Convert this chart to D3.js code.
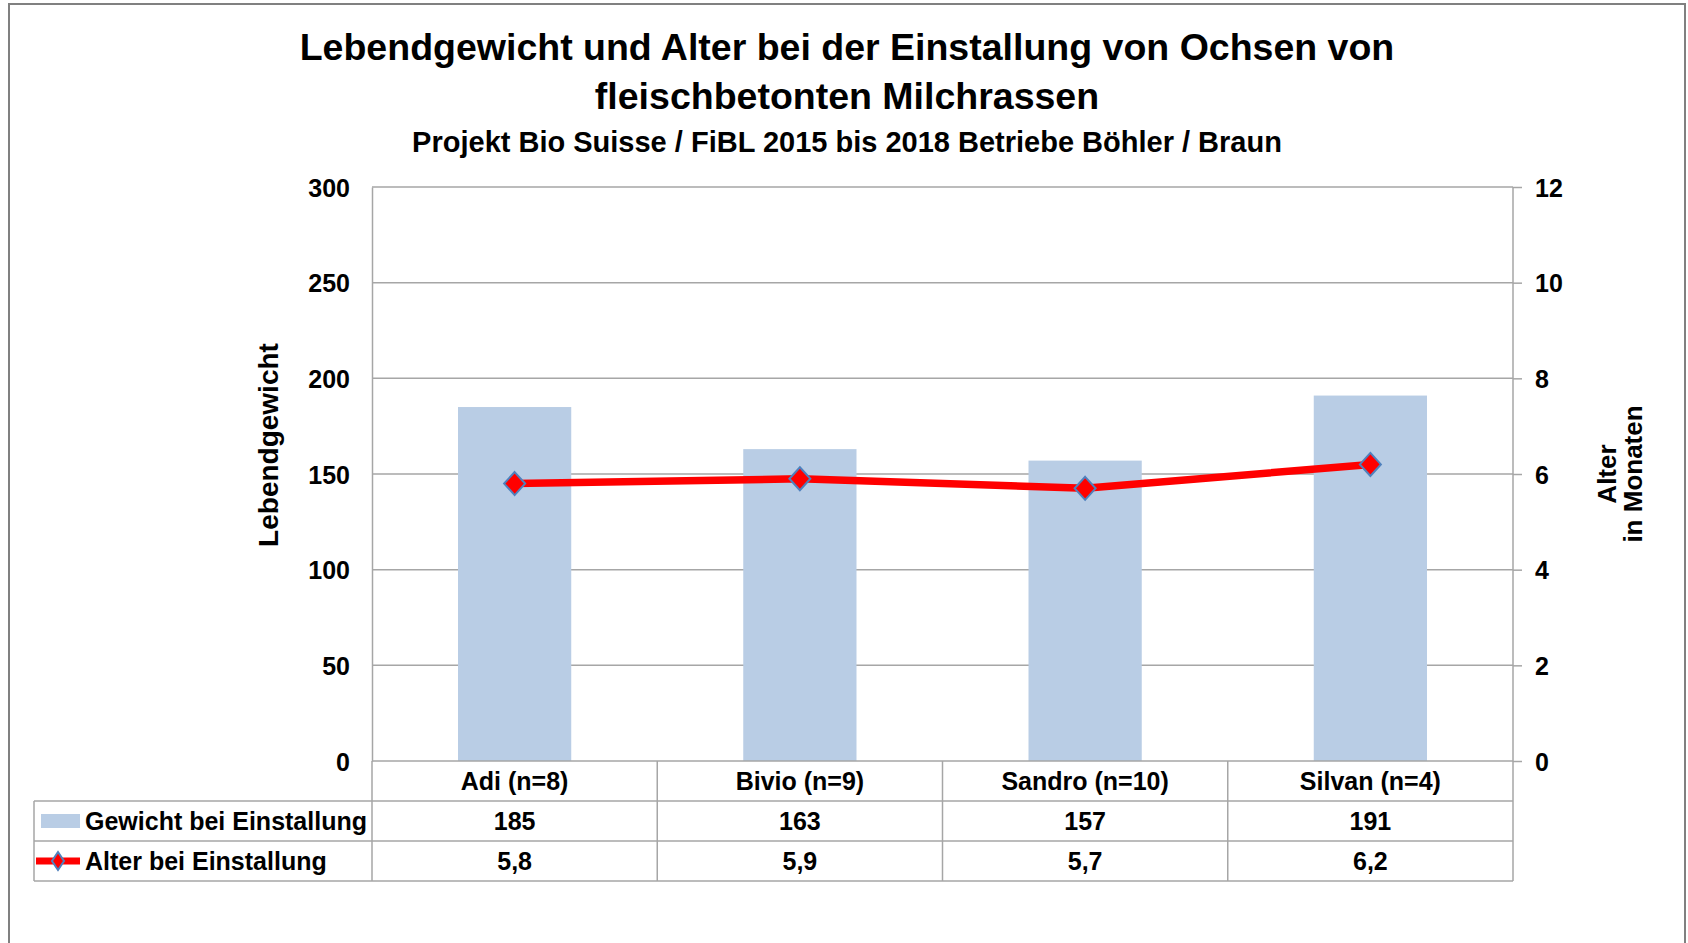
<!DOCTYPE html>
<html>
<head>
<meta charset="utf-8">
<script src="https://cdn.jsdelivr.net/npm/d3@7/dist/d3.min.js"></script>
<style>
  body { margin: 0; background: #fff; }
  text { font-family: "Liberation Sans", Arial, sans-serif; font-weight: bold; fill: #000; }
</style>
</head>
<body>
<svg id="chart" width="1688" height="943"></svg>
<script>
var categories = ["Adi (n=8)", "Bivio (n=9)", "Sandro (n=10)", "Silvan (n=4)"];
var gewicht = [185, 163, 157, 191];
var alter = [5.8, 5.9, 5.7, 6.2];
var leftTicks = [0, 50, 100, 150, 200, 250, 300];
var rightTicks = [0, 2, 4, 6, 8, 10, 12];
var seriesNames = ["Gewicht bei Einstallung", "Alter bei Einstallung"];

var barColor = "#b9cde5";
var lineColor = "#ff0000";
var gridColor = "#a6a6a6";

var svg = d3.select("#chart");
// plot box (note: "top" is reserved on window, so use plot* names)
var plotLeft = 372, plotRight = 1513, plotTop = 187, plotBottom = 761;
var rowH = 40;

var de = d3.formatLocale({decimal: ",", thousands: ".", grouping: [3], currency: ["", " €"]});
var fmt1 = de.format(".1f");

var x = d3.scaleBand()
    .domain(categories)
    .range([plotLeft, plotRight])
    .paddingInner(0);

var yL = d3.scaleLinear()
    .domain([0, 300])
    .range([plotBottom, plotTop]);

var yR = d3.scaleLinear()
    .domain([0, 12])
    .range([plotBottom, plotTop]);

// outer frame
svg.append("rect")
  .attr("x", 9).attr("y", 4)
  .attr("width", 1676).attr("height", 1000)
  .attr("fill", "none")
  .attr("stroke", "#808080")
  .attr("stroke-width", 2);

// titles
svg.append("text")
  .attr("x", 847).attr("y", 60)
  .attr("text-anchor", "middle")
  .style("font-size", "37.5px")
  .text("Lebendgewicht und Alter bei der Einstallung von Ochsen von");
svg.append("text")
  .attr("x", 847).attr("y", 109)
  .attr("text-anchor", "middle")
  .style("font-size", "37.5px")
  .text("fleischbetonten Milchrassen");
svg.append("text")
  .attr("x", 847).attr("y", 152)
  .attr("text-anchor", "middle")
  .style("font-size", "29px")
  .text("Projekt Bio Suisse / FiBL 2015 bis 2018 Betriebe Böhler / Braun");

// gridlines
svg.append("g")
  .selectAll("line")
  .data(leftTicks.filter(function(d){ return d > 0; }))
  .enter().append("line")
  .attr("x1", plotLeft).attr("x2", plotRight)
  .attr("y1", function(d){ return yL(d); })
  .attr("y2", function(d){ return yL(d); })
  .attr("stroke", gridColor)
  .attr("stroke-width", 1.5);

// bars
var bw = x.bandwidth() * 0.397;
svg.append("g")
  .selectAll("rect")
  .data(gewicht)
  .enter().append("rect")
  .attr("x", function(d, i){ return x(categories[i]) + x.bandwidth()/2 - bw/2; })
  .attr("y", function(d){ return yL(d); })
  .attr("width", bw)
  .attr("height", function(d){ return yL(0) - yL(d); })
  .attr("fill", barColor);

// left axis
var gLeft = svg.append("g")
  .attr("transform", "translate(" + plotLeft + ",0)")
  .call(d3.axisLeft(yL).tickValues(leftTicks).tickSize(0).tickPadding(22));
gLeft.select(".domain").attr("stroke", gridColor).attr("stroke-width", 1.5);
gLeft.selectAll("text").style("font-size", "25px").attr("dy", "0.36em");

// right axis
var gRight = svg.append("g")
  .attr("transform", "translate(" + plotRight + ",0)")
  .call(d3.axisRight(yR).tickValues(rightTicks).tickSize(9).tickPadding(13));
gRight.select(".domain").attr("stroke", gridColor).attr("stroke-width", 1.5).attr("d", "M0," + plotTop + "V" + (plotBottom + 3 * rowH));
gRight.selectAll(".tick line").attr("stroke", gridColor).attr("stroke-width", 1.5);
gRight.selectAll("text").style("font-size", "25px").attr("dy", "0.36em");

// axis titles
svg.append("text")
  .attr("transform", "translate(278,445) rotate(-90)")
  .attr("text-anchor", "middle")
  .style("font-size", "28px")
  .text("Lebendgewicht");
var rt = svg.append("text")
  .attr("transform", "translate(1616,474) rotate(-90)")
  .attr("text-anchor", "middle")
  .style("font-size", "26px");
rt.append("tspan").attr("x", 0).attr("dy", 0).text("Alter");
rt.append("tspan").attr("x", 0).attr("dy", 26).text("in Monaten");

// line + markers
var line = d3.line()
  .x(function(d, i){ return x(categories[i]) + x.bandwidth()/2; })
  .y(function(d){ return yR(d); });

svg.append("path")
  .datum(alter)
  .attr("d", line)
  .attr("fill", "none")
  .attr("stroke", lineColor)
  .attr("stroke-width", 7.5)
  .attr("stroke-linejoin", "round");

function diamond(g, cx, cy, w, h){
  g.append("path")
    .attr("d", "M" + cx + "," + (cy - h/2) + "L" + (cx + w/2) + "," + cy + "L" + cx + "," + (cy + h/2) + "L" + (cx - w/2) + "," + cy + "Z")
    .attr("fill", lineColor)
    .attr("stroke", "#4f81bd")
    .attr("stroke-width", 2);
}

var markers = svg.append("g");
alter.forEach(function(d, i){
  diamond(markers, x(categories[i]) + x.bandwidth()/2, yR(d), 21, 23);
});

// data table
var table = svg.append("g");
var tableLeft = 34;

// horizontal lines
[plotBottom, plotBottom + rowH, plotBottom + 2*rowH, plotBottom + 3*rowH].forEach(function(yy, i){
  table.append("line")
    .attr("x1", i == 0 ? plotLeft : tableLeft).attr("x2", plotRight)
    .attr("y1", yy).attr("y2", yy)
    .attr("stroke", gridColor).attr("stroke-width", 1.5);
});
// vertical lines
categories.forEach(function(c){
  table.append("line")
    .attr("x1", x(c)).attr("x2", x(c))
    .attr("y1", plotBottom).attr("y2", plotBottom + 3*rowH)
    .attr("stroke", gridColor).attr("stroke-width", 1.5);
});
table.append("line")
  .attr("x1", tableLeft).attr("x2", tableLeft)
  .attr("y1", plotBottom + rowH).attr("y2", plotBottom + 3*rowH)
  .attr("stroke", gridColor).attr("stroke-width", 1.5);

// category labels
table.selectAll(".cat")
  .data(categories)
  .enter().append("text")
  .attr("class", "cat")
  .attr("x", function(d){ return x(d) + x.bandwidth()/2; })
  .attr("y", plotBottom + rowH/2)
  .attr("dy", "0.36em")
  .attr("text-anchor", "middle")
  .style("font-size", "25px")
  .text(function(d){ return d; });

// values
table.selectAll(".gw")
  .data(gewicht)
  .enter().append("text")
  .attr("class", "gw")
  .attr("x", function(d, i){ return x(categories[i]) + x.bandwidth()/2; })
  .attr("y", plotBottom + rowH*1.5)
  .attr("dy", "0.36em")
  .attr("text-anchor", "middle")
  .style("font-size", "25px")
  .text(function(d){ return d; });

table.selectAll(".al")
  .data(alter)
  .enter().append("text")
  .attr("class", "al")
  .attr("x", function(d, i){ return x(categories[i]) + x.bandwidth()/2; })
  .attr("y", plotBottom + rowH*2.5)
  .attr("dy", "0.36em")
  .attr("text-anchor", "middle")
  .style("font-size", "25px")
  .text(function(d){ return fmt1(d); });

// legend keys
table.append("rect")
  .attr("x", 41).attr("y", plotBottom + rowH*1.5 - 7)
  .attr("width", 39).attr("height", 14)
  .attr("fill", barColor);
table.append("line")
  .attr("x1", 36).attr("x2", 80)
  .attr("y1", plotBottom + rowH*2.5).attr("y2", plotBottom + rowH*2.5)
  .attr("stroke", lineColor).attr("stroke-width", 7);
diamond(table, 58, plotBottom + rowH*2.5, 12, 18);

seriesNames.forEach(function(s, i){
  table.append("text")
    .attr("x", 85)
    .attr("y", plotBottom + rowH*(1.5 + i))
    .attr("dy", "0.36em")
    .style("font-size", "25px")
    .text(s);
});
</script>
</body>
</html>
